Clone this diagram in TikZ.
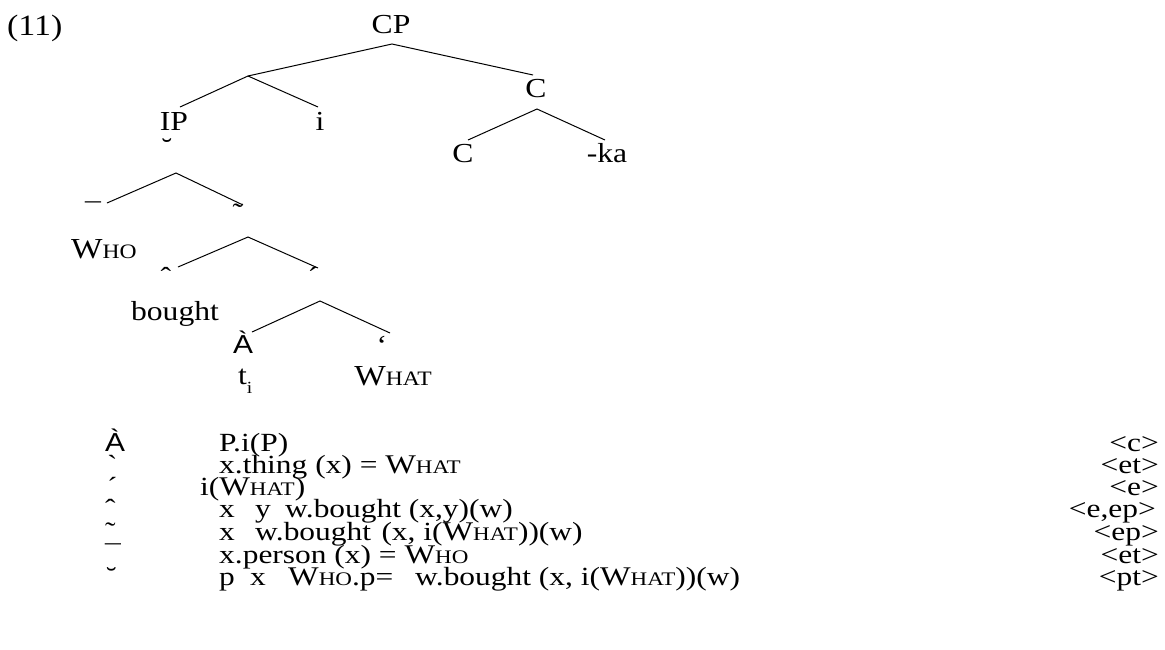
\documentclass[tikz,border=0pt]{standalone}
\usepackage{fontspec}
\setmainfont{Liberation Serif}[FakeStretch=1.15]
\newfontfamily\listfont{Liberation Serif}[FakeStretch=1.2]
\newfontfamily\sansA{Liberation Sans}[FakeStretch=1.15]
\newcommand\trfont{\fontsize{27.5}{27.5}\selectfont}
\newcommand\trW[1]{{\fontsize{29}{29}\selectfont W}{\fontsize{20.5}{20.5}\selectfont #1}}
\newcommand\lsfont{\listfont\fontsize{26.2}{26.2}\selectfont}
\newcommand\lsW[1]{{\fontsize{27}{27}\selectfont W}{\fontsize{19.2}{19.2}\selectfont #1}}
\tikzset{
  tr/.style={font=\trfont, inner sep=0pt, anchor=base},
  trl/.style={font=\trfont, inner sep=0pt, anchor=base west},
  ls/.style={font=\lsfont, inner sep=0pt, anchor=base west},
  lsr/.style={font=\lsfont, inner sep=0pt, anchor=base east},
  glyph/.style={font=\sansA\fontsize{26}{26}\selectfont, inner sep=0pt, anchor=base},
  branch/.style={line width=1pt, black},
}
\begin{document}
\begin{tikzpicture}[x=1pt,y=-1pt]
\useasboundingbox (0,0) rectangle (1165,649);
% labels of the tree
\node[trl, font=\fontsize{29.5}{29.5}\selectfont] (ex) at (7,35) {(11)};
\node[tr] (cp) at (391,33) {CP};
\node[tr] (cbar) at (536,97) {C};
\node[tr] (ip) at (174,130) {IP};
\node[tr] (iota) at (320,130) {i};
\node[tr] (c0) at (463,162) {C};
\node[tr] (ka) at (607,162) {-ka};
\node[tr] (eta) at (167,157) {˘};
\node[tr] (zeta) at (93,222) {¯};
\node[tr] (eps) at (238,222) {˜};
\node[tr] (who) at (104,258) {\trW{HO}};
\node[tr] (delta) at (166,286) {ˆ};
\node[tr] (gamma) at (313,286) {´};
\node[tr] (bought) at (175,320) {bought};
\node[glyph] (alpha) at (243,353) {À};
\node[tr] (beta) at (382,354) {`};
\node[trl] (trace) at (238,384) {t\raisebox{-9pt}{\fontsize{17}{17}\selectfont i}};
\node[tr] (what) at (393,385) {\trW{HAT}};
% branch points
\coordinate (a0) at (392,44);
\coordinate (l0) at (248,76);
\coordinate (r0) at (533,75);
\coordinate (l0l) at (180,107);
\coordinate (l0r) at (318,107);
\coordinate (a1) at (537,109);
\coordinate (a1l) at (468,140);
\coordinate (a1r) at (605,140);
\coordinate (a2) at (176,173);
\coordinate (a2l) at (107,203);
\coordinate (a2r) at (243,205);
\coordinate (a3) at (248,237);
\coordinate (a3l) at (178,267);
\coordinate (a3r) at (318,268);
\coordinate (a4) at (320,301);
\coordinate (a4l) at (252,332);
\coordinate (a4r) at (390,333);
\draw[branch] (l0) -- (a0) -- (r0);
\draw[branch] (l0l) -- (l0) -- (l0r);
\draw[branch] (a1l) -- (a1) -- (a1r);
\draw[branch] (a2l) -- (a2) -- (a2r);
\draw[branch] (a3l) -- (a3) -- (a3r);
\draw[branch] (a4l) -- (a4) -- (a4r);
% list
\node[glyph, anchor=base west] (g1) at (105,451) {À};
\node[ls] (g2) at (107,473) {`};
\node[ls] (g3) at (107,495) {´};
\node[ls] (g4) at (105,517) {ˆ};
\node[ls] (g5) at (105,540) {˜};
\node[ls] (g6) at (105,563) {¯};
\node[ls] (g7) at (106,585) {˘};
\node[ls] (t1) at (219,451) {P.i(P)};
\node[ls] (t2) at (219,473) {x.thing (x) = \lsW{HAT}};
\node[ls] (t3) at (200,495) {i(\lsW{HAT})};
\node[ls] (t4a) at (219,517) {x};
\node[ls] (t4b) at (255,517) {y};
\node[ls] (t4c) at (285,517) {w.bought (x,y)(w)};
\node[ls] (t5a) at (219,540) {x};
\node[ls] (t5b) at (255,540) {w.bought\hspace{0.4em}(x, i(\lsW{HAT}))(w)};
\node[ls] (t6) at (219,563) {x.person (x) = \lsW{HO}};
\node[ls] (t7a) at (219,585) {p};
\node[ls] (t7b) at (250,585) {x};
\node[ls] (t7c) at (288,585) {\lsW{HO}.p=};
\node[ls] (t7d) at (415,585) {w.bought (x, i(\lsW{HAT}))(w)};
\node[lsr] (y1) at (1159,451) {<c>};
\node[lsr] (y2) at (1159,473) {<et>};
\node[lsr] (y3) at (1159,495) {<e>};
\node[lsr] (y4) at (1156,517) {<e,ep>};
\node[lsr] (y5) at (1159,540) {<ep>};
\node[lsr] (y6) at (1159,563) {<et>};
\node[lsr] (y7) at (1159,585) {<pt>};
\end{tikzpicture}
\end{document}
